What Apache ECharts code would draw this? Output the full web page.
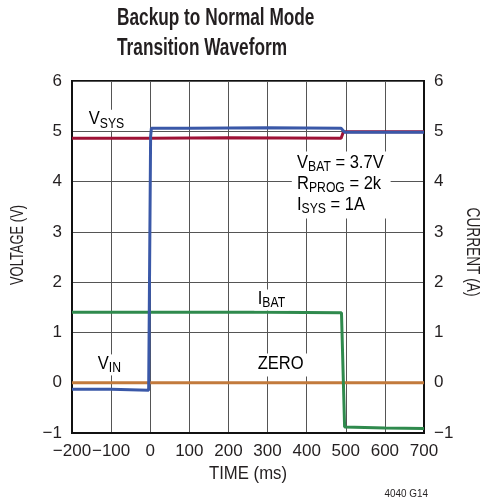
<!DOCTYPE html>
<html>
<head>
<meta charset="utf-8">
<script src="https://cdn.jsdelivr.net/npm/echarts@6/dist/echarts.min.js"></script>
<style>
  html, body { margin: 0; padding: 0; background: #fff; }
  #chart { width: 486px; height: 500px; }
</style>
</head>
<body>
<div id="chart"></div>
<script>
// time ticks (ms) and value ticks (V / A)
var timeTicks = [-200, -100, 0, 100, 200, 300, 400, 500, 600, 700];
var valueTicks = [-1, 0, 1, 2, 3, 4, 5, 6];

// traces
var vinTime = [-200, -100, -4, 1, 3, 100, 300, 488, 497, 600, 700];
var vinVolt = [-0.13, -0.13, -0.15, 4.9, 5.06, 5.06, 5.07, 5.06, 4.98, 4.98, 4.98];

var vsysTime = [-200, 0, 200, 488, 494, 600, 700];
var vsysVolt = [4.86, 4.86, 4.87, 4.86, 4.99, 4.99, 4.99];

var ibatTime = [-200, 0, 300, 489, 497, 600, 700];
var ibatAmp = [1.40, 1.40, 1.40, 1.39, -0.88, -0.90, -0.91];

var zeroTime = [-200, 700];
var zeroVal = [0, 0];

var colors = {
    vin: '#3a58a8',
    vsys: '#9e1236',
    ibat: '#2f8a4d',
    zero: '#c27a3c'
};

function pairs(xs, ys) {
    var out = [];
    for (var i = 0; i < xs.length; i++) {
        out.push([xs[i], ys[i]]);
    }
    return out;
}

var font = '"Liberation Sans", Arial, sans-serif';
var ink = '#231f20';

function minus(v) { return v < 0 ? '\u2212' + Math.abs(v) : '' + v; }

var chart = echarts.init(document.getElementById('chart'), null, {renderer: 'canvas'});

var valueAxis = function (pos) {
    return {
        type: 'value',
        position: pos,
        min: valueTicks[0],
        max: valueTicks[valueTicks.length - 1],
        interval: 1,
        axisLine: { show: true, onZero: false, lineStyle: { color: '#111', width: 2 } },
        axisTick: { show: false },
        axisLabel: {
            margin: 10, color: ink, fontFamily: font, fontSize: 17,
            showMinLabel: true, showMaxLabel: true, hideOverlap: false,
            formatter: minus
        },
        splitLine: { show: pos === 'left', lineStyle: { color: '#555', width: 1 } }
    };
};

var option = {
    animation: false,
    backgroundColor: '#fff',
    grid: { left: 72, right: 62, top: 81, bottom: 67, show: true, borderColor: '#111', borderWidth: 2 },
    xAxis: {
        type: 'value',
        min: timeTicks[0],
        max: timeTicks[timeTicks.length - 1],
        interval: 100,
        axisLine: { show: true, onZero: false, lineStyle: { color: '#111', width: 2 } },
        axisTick: { show: false },
        axisLabel: {
            margin: 10, color: ink, fontFamily: font, fontSize: 17,
            showMinLabel: true, showMaxLabel: true, hideOverlap: false,
            formatter: minus
        },
        splitLine: { show: true, lineStyle: { color: '#555', width: 1 } }
    },
    yAxis: [valueAxis('left'), valueAxis('right')],
    series: [
        {
            name: 'ZERO', type: 'line', showSymbol: false, z: 2,
            data: pairs(zeroTime, zeroVal),
            lineStyle: { color: colors.zero, width: 3 }
        },
        {
            name: 'VSYS', type: 'line', showSymbol: false, z: 3,
            data: pairs(vsysTime, vsysVolt),
            lineStyle: { color: colors.vsys, width: 3 }
        },
        {
            name: 'IBAT', type: 'line', showSymbol: false, z: 4, yAxisIndex: 1,
            data: pairs(ibatTime, ibatAmp),
            lineStyle: { color: colors.ibat, width: 3 }
        },
        {
            name: 'VIN', type: 'line', showSymbol: false, z: 5,
            data: pairs(vinTime, vinVolt),
            lineStyle: { color: colors.vin, width: 3 }
        }
    ]
};

chart.setOption(option);

// annotations, anchored to data coordinates; scaleX fakes the condensed face
function px(t, v) { return chart.convertToPixel({ gridIndex: 0 }, [t, v]); }

var richStyle = {
    m: { fontFamily: font, fontSize: 19, color: ink, lineHeight: 21, verticalAlign: 'top' },
    s: { fontFamily: font, fontSize: 14, color: ink, lineHeight: 12, padding: [10, 0, 0, 0], verticalAlign: 'bottom' }
};

function note(text, t, v, padding) {
    var p = px(t, v);
    return {
        type: 'text', x: p[0], y: p[1], z: 20, scaleX: 0.87,
        style: {
            text: text,
            backgroundColor: '#fff',
            padding: padding || [0, 4, 0, 4],
            rich: richStyle
        }
    };
}

function plain(text, x, y, size, opts) {
    var el = {
        type: 'text', x: x, y: y, z: 20,
        style: {
            text: text, fontFamily: font, fontSize: size, fill: ink,
            align: 'center', verticalAlign: 'middle'
        }
    };
    for (var k in opts) {
        if (k === 'style') {
            for (var s in opts.style) el.style[s] = opts.style[s];
        } else {
            el[k] = opts[k];
        }
    }
    return el;
}

var graphics = [
    plain('Backup to Normal Mode', 117, 7, 23, {
        scaleX: 0.75, style: { fontWeight: 'bold', align: 'left', verticalAlign: 'top' }
    }),
    plain('Transition Waveform', 117, 37, 23, {
        scaleX: 0.75, style: { fontWeight: 'bold', align: 'left', verticalAlign: 'top' }
    }),
    note('{m|V}{s|SYS}', -166, 5.43),
    note('{m|I}{s|BAT}', 266, 1.855),
    note('{m|V}{s|IN}', -143, 0.563),
    note('{m|ZERO}', 266, 0.58, [1, 6, 1, 4]),
    note('{m|V}{s|BAT}{m| = 3.7V}\n{m|R}{s|PROG}{m| = 2k}\n{m|I}{s|SYS}{m| = 1A}', 362, 4.60, [2, 8, 2, 6]),
    plain('VOLTAGE (V)', 18, 245, 18, { rotation: Math.PI / 2, scaleX: 0.72 }),
    plain('CURRENT (A)', 472, 252, 18, { rotation: -Math.PI / 2, scaleX: 0.76 }),
    plain('TIME (ms)', 248, 464, 19, { scaleX: 0.88, style: { verticalAlign: 'top' } }),
    plain('4040 G14', 428, 494, 11, { scaleX: 0.9, style: { align: 'right' } })
];

chart.setOption({ graphic: graphics });
</script>
</body>
</html>
